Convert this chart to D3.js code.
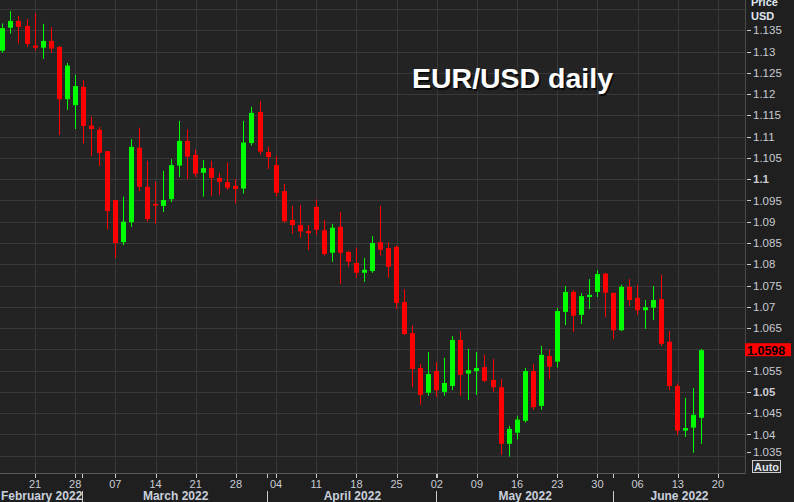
<!DOCTYPE html>
<html>
<head>
<meta charset="utf-8">
<script src="https://cdn.jsdelivr.net/npm/d3@7"></script>
<style>
  html,body{margin:0;padding:0;background:#1e1e1e;}
  svg{display:block;}
</style>
</head>
<body>
<svg id="chart" width="794" height="502"></svg>
<script>
// ---------------- data ----------------
const dates = [
 "2022-02-15","2022-02-16","2022-02-17","2022-02-18","2022-02-21","2022-02-22","2022-02-23","2022-02-24","2022-02-25","2022-02-28",
 "2022-03-01","2022-03-02","2022-03-03","2022-03-04","2022-03-07","2022-03-08","2022-03-09","2022-03-10","2022-03-11","2022-03-14",
 "2022-03-15","2022-03-16","2022-03-17","2022-03-18","2022-03-21","2022-03-22","2022-03-23","2022-03-24","2022-03-25","2022-03-28",
 "2022-03-29","2022-03-30","2022-03-31","2022-04-01","2022-04-04","2022-04-05","2022-04-06","2022-04-07","2022-04-08","2022-04-11",
 "2022-04-12","2022-04-13","2022-04-14","2022-04-15","2022-04-18","2022-04-19","2022-04-20","2022-04-21","2022-04-22","2022-04-25",
 "2022-04-26","2022-04-27","2022-04-28","2022-04-29","2022-05-02","2022-05-03","2022-05-04","2022-05-05","2022-05-06","2022-05-09",
 "2022-05-10","2022-05-11","2022-05-12","2022-05-13","2022-05-16","2022-05-17","2022-05-18","2022-05-19","2022-05-20","2022-05-23",
 "2022-05-24","2022-05-25","2022-05-26","2022-05-27","2022-05-30","2022-05-31","2022-06-01","2022-06-02","2022-06-03","2022-06-06",
 "2022-06-07","2022-06-08","2022-06-09","2022-06-10","2022-06-13","2022-06-14","2022-06-15","2022-06-16"
];
const open = [
 1.1302,1.1356,1.1372,1.1360,1.1314,1.1309,1.1325,1.1311,1.1188,1.1174,
 1.1217,1.1126,1.1116,1.1066,1.0951,1.0852,1.0899,1.1074,1.0982,1.0942,
 1.0937,1.0953,1.1032,1.1090,1.1057,1.1015,1.1026,1.1003,1.0993,1.0984,
 1.0978,1.1085,1.1158,1.1064,1.1033,1.0972,1.0904,1.0892,1.0878,1.0935,
 1.0880,1.0827,1.0888,1.0829,1.0803,1.0780,1.0784,1.0852,1.0838,1.0841,
 1.0711,1.0638,1.0556,1.0498,1.0549,1.0500,1.0514,1.0622,1.0543,1.0549,
 1.0558,1.0528,1.0511,1.0378,1.0404,1.0432,1.0549,1.0467,1.0584,1.0571,
 1.0688,1.0735,1.0681,1.0723,1.0735,1.0778,1.0733,1.0645,1.0747,1.0721,
 1.0692,1.0698,1.0718,1.0618,1.0514,1.0409,1.0416,1.0439
];
const high = [
 1.1366,1.1395,1.1384,1.1376,1.1390,1.1365,1.1357,1.1313,1.1273,1.1245,
 1.1233,1.1147,1.1123,1.1066,1.0951,1.0959,1.1094,1.1121,1.1043,1.0994,
 1.1020,1.1047,1.1137,1.1117,1.1070,1.1045,1.1043,1.1015,1.1039,1.1000,
 1.1137,1.1170,1.1184,1.1076,1.1054,1.0989,1.0937,1.0939,1.0892,1.0952,
 1.0904,1.0895,1.0923,1.0832,1.0839,1.0815,1.0866,1.0937,1.0852,1.0844,
 1.0741,1.0656,1.0566,1.0594,1.0570,1.0580,1.0631,1.0643,1.0601,1.0594,
 1.0587,1.0577,1.0530,1.0420,1.0444,1.0556,1.0566,1.0608,1.0599,1.0697,
 1.0749,1.0739,1.0732,1.0765,1.0786,1.0780,1.0733,1.0752,1.0765,1.0751,
 1.0716,1.0749,1.0775,1.0643,1.0520,1.0486,1.0509,1.0601
];
const low = [
 1.1297,1.1342,1.1319,1.1311,1.1302,1.1283,1.1297,1.1104,1.1163,1.1118,
 1.1084,1.1054,1.1031,1.0882,1.0815,1.0845,1.0888,1.0972,1.0900,1.0896,
 1.0923,1.0946,1.1005,1.1000,1.1005,1.0959,1.0961,1.0963,1.0975,1.0943,
 1.0966,1.1079,1.1058,1.1024,1.0959,1.0898,1.0872,1.0862,1.0834,1.0869,
 1.0820,1.0806,1.0754,1.0794,1.0768,1.0759,1.0780,1.0820,1.0768,1.0695,
 1.0634,1.0511,1.0470,1.0491,1.0488,1.0491,1.0504,1.0491,1.0481,1.0493,
 1.0523,1.0500,1.0352,1.0348,1.0388,1.0428,1.0458,1.0458,1.0530,1.0557,
 1.0657,1.0641,1.0660,1.0695,1.0723,1.0676,1.0624,1.0643,1.0702,1.0681,
 1.0648,1.0669,1.0608,1.0504,1.0399,1.0394,1.0357,1.0378
];
const close = [
 1.1355,1.1372,1.1358,1.1318,1.1309,1.1325,1.1307,1.1188,1.1267,1.1219,
 1.1125,1.1118,1.1062,1.0925,1.0850,1.0900,1.1076,1.0982,1.0906,1.0938,
 1.0951,1.1033,1.1090,1.1053,1.1013,1.1026,1.1003,1.0994,1.0980,1.0977,
 1.1086,1.1156,1.1065,1.1052,1.0968,1.0901,1.0892,1.0877,1.0873,1.0881,
 1.0824,1.0886,1.0827,1.0806,1.0780,1.0787,1.0850,1.0834,1.0794,1.0709,
 1.0636,1.0554,1.0493,1.0542,1.0504,1.0521,1.0622,1.0540,1.0551,1.0556,
 1.0526,1.0511,1.0378,1.0413,1.0435,1.0549,1.0464,1.0587,1.0559,1.0690,
 1.0735,1.0679,1.0725,1.0728,1.0777,1.0733,1.0645,1.0747,1.0716,1.0692,
 1.0699,1.0716,1.0613,1.0514,1.0409,1.0415,1.0446,1.0598
];
// axis labels
const dayTickLabels = ["21","28","07","14","21","28","04","11","18","25","02","09","16","23","30","06","13","20"];
const dayTickIndex  = [4,9,14,19,24,29,34,39,44,49,54,59,64,69,74,79,84,89];
const monthLabels = ["February 2022","March 2022","April 2022","May 2022","June 2022"];
const monthStartIndex = [-10,10,33,54,76];
const monthEndIndex   = [10,33,54,76,98];
// 1.06 is hidden behind the last-price marker in the reference
const yTickValues = [1.035,1.04,1.045,1.05,1.055,1.065,1.07,1.075,1.08,1.085,1.09,1.095,1.1,1.105,1.11,1.115,1.12,1.125,1.13,1.135];
const yGridValues = [1.035,1.04,1.045,1.05,1.055,1.06,1.065,1.07,1.075,1.08,1.085,1.09,1.095,1.1,1.105,1.11,1.115,1.12,1.125,1.13,1.135,1.14];
const boldTicks = [1.1,1.05];
const lastPriceLabel = "1.0598";
const titleText = "EUR/USD daily";

// ---------------- layout ----------------
const W = 794, H = 502;
const plotR = 745.5, plotB = 473.5;
const svg = d3.select("#chart");

const x = d3.scaleLinear().domain([0, dates.length - 1]).range([2.9, 701.9]);
const y = d3.scaleLinear().domain([1.035, 1.14]).range([455.7, 9]);

const GREEN = "#00ff00", RED = "#ff0000";
const AXIS_TXT = "#c9ccd3";

svg.append("rect").attr("width", W).attr("height", H).attr("fill", "#1f1f1f");
svg.append("rect").attr("x", 0).attr("y", 0).attr("width", plotR).attr("height", plotB)
  .attr("fill", "#232323");

const crisp = v => Math.round(v) + 0.5;

// grid
const grid = svg.append("g").attr("stroke", "#383838").attr("stroke-width", 1);
grid.selectAll("line.h").data(yGridValues).join("line")
  .attr("x1", 0).attr("x2", plotR)
  .attr("y1", d => crisp(y(d))).attr("y2", d => crisp(y(d)));
grid.selectAll("line.v").data(dayTickIndex).join("line")
  .attr("y1", 0).attr("y2", plotB)
  .attr("x1", d => crisp(x(d))).attr("x2", d => crisp(x(d)));

// candles
const data = dates.map((d, i) => ({d, i, o: open[i], h: high[i], l: low[i], c: close[i]}));
svg.append("clipPath").attr("id", "clipPlot").append("rect")
  .attr("x", 0).attr("y", 0).attr("width", plotR).attr("height", plotB);
const cg = svg.append("g").attr("clip-path", "url(#clipPlot)");

const cx = i => Math.floor(x(i)) + 0.5;
cg.selectAll("line.wick").data(data).join("line")
  .attr("x1", d => cx(d.i)).attr("x2", d => cx(d.i))
  .attr("y1", d => y(d.h)).attr("y2", d => y(d.l))
  .attr("stroke", d => d.c >= d.o ? GREEN : RED).attr("stroke-width", 1);
cg.selectAll("rect.body").data(data).join("rect")
  .attr("x", d => cx(d.i) - 2.5).attr("width", 5)
  .attr("y", d => y(Math.max(d.o, d.c)))
  .attr("height", d => Math.max(1.5, Math.abs(y(d.o) - y(d.c))))
  .attr("fill", d => d.c >= d.o ? GREEN : RED);

// plot borders
svg.append("line").attr("x1", 0).attr("x2", plotR).attr("y1", plotB).attr("y2", plotB)
  .attr("stroke", "#5a5a5a");
svg.append("line").attr("x1", plotR).attr("x2", plotR).attr("y1", 0).attr("y2", plotB)
  .attr("stroke", "#4a4a4a");

// right axis
const fmt = v => String(+v.toFixed(3));
const ra = svg.append("g").attr("font-family", "Liberation Sans, Arial, sans-serif").attr("font-size", 11.5);
yTickValues.forEach(v => {
  const yy = Math.min(452, y(v));
  ra.append("line").attr("x1", 747).attr("x2", 751).attr("y1", crisp(yy)).attr("y2", crisp(yy))
    .attr("stroke", AXIS_TXT);
  ra.append("text").attr("x", 753).attr("y", yy).attr("dy", "0.36em")
    .attr("fill", AXIS_TXT)
    .attr("font-weight", boldTicks.some(b => Math.abs(b - v) < 1e-9) ? "bold" : "normal")
    .text(fmt(v));
});
ra.append("text").attr("x", 751).attr("y", 6).attr("fill", "#dfe6f0").attr("font-weight", "bold")
  .attr("font-size", 11).text("Price");
ra.append("text").attr("x", 751).attr("y", 20).attr("fill", "#dfe6f0").attr("font-weight", "bold")
  .attr("font-size", 11).text("USD");

// last price label
const yl = y(close[close.length - 1]);
svg.append("rect").attr("x", 745).attr("y", yl - 7).attr("width", 46).attr("height", 13).attr("fill", RED);
svg.append("text").attr("x", 747).attr("y", yl).attr("dy", "0.37em")
  .attr("font-family", "Liberation Sans, Arial, sans-serif").attr("font-size", 12.5).attr("font-weight", "bold")
  .attr("fill", "#000").text(lastPriceLabel);

// Auto box
svg.append("rect").attr("x", 752.5).attr("y", 460.5).attr("width", 28).attr("height", 12)
  .attr("fill", "#2a2a2a").attr("stroke", "#c9ccd3");
svg.append("text").attr("x", 766.5).attr("y", 470.5).attr("text-anchor", "middle")
  .attr("font-family", "Liberation Sans, Arial, sans-serif").attr("font-size", 11).attr("font-weight", "bold")
  .attr("fill", "#dfe3ea").text("Auto");

// bottom axis
const ba = svg.append("g").attr("font-family", "Liberation Sans, Arial, sans-serif").attr("fill", AXIS_TXT);
dayTickIndex.forEach((idx, k) => {
  const xx = crisp(x(idx));
  ba.append("line").attr("x1", xx).attr("x2", xx).attr("y1", 474).attr("y2", 478).attr("stroke", AXIS_TXT);
  ba.append("text").attr("x", x(idx)).attr("y", 488).attr("text-anchor", "middle")
    .attr("font-size", 11).text(dayTickLabels[k]);
});
monthStartIndex.forEach((s, k) => {
  if (s > 0) {
    const xx = crisp(x(s)) - 1;
    ba.append("line").attr("x1", xx).attr("x2", xx).attr("y1", 474).attr("y2", 478).attr("stroke", AXIS_TXT);
    ba.append("line").attr("x1", xx).attr("x2", xx).attr("y1", 491).attr("y2", 502).attr("stroke", AXIS_TXT);
  }
  const a = Math.max(0, x(s)), b = Math.min(plotR, x(monthEndIndex[k]));
  ba.append("text").attr("x", (a + b) / 2).attr("y", 500).attr("text-anchor", "middle")
    .attr("font-size", 12).attr("font-weight", "bold").attr("fill", "#c9d0dc").text(monthLabels[k]);
});

// title
const titleAttrs = sel => sel
  .attr("font-family", "Liberation Sans, Arial, sans-serif").attr("font-size", 28).attr("font-weight", "bold")
  .attr("textLength", 201).attr("lengthAdjust", "spacingAndGlyphs").text(titleText);
svg.append("text").attr("x", 413.5).attr("y", 89.5).attr("fill", "#000").attr("opacity", 0.7).call(titleAttrs);
svg.append("text").attr("x", 412).attr("y", 88).attr("fill", "#ffffff").call(titleAttrs);
</script>
</body>
</html>
